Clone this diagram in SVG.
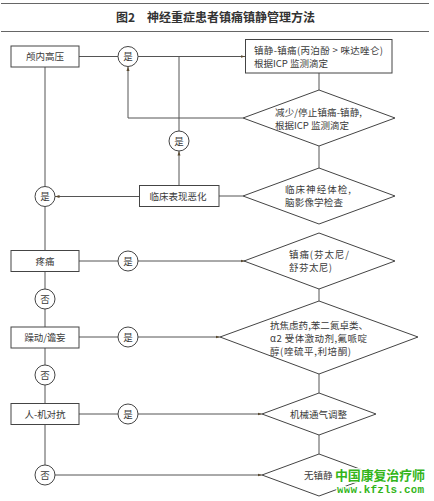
<svg xmlns="http://www.w3.org/2000/svg" width="434" height="501" viewBox="0 0 434 501">
<defs>
<marker id="a" markerWidth="5" markerHeight="4" refX="4.5" refY="2" orient="auto" markerUnits="userSpaceOnUse"><path d="M0,0.5 L4.5,2 L0,3.5 Z" fill="#5a4a30"/></marker>
</defs>
<style>
text{font-family:"Noto Sans CJK SC","Liberation Serif",serif;font-size:9.5px;fill:#3a3a3a}
.c{text-anchor:middle}
.b{fill:#fff;stroke:#444;stroke-width:1}
.l{fill:none;stroke:#555;stroke-width:1}
.r{stroke:#666;stroke-width:1;fill:none}
.t{font-size:12px;font-weight:700;fill:#333}
.w{fill:#33b51a;font-weight:700;paint-order:stroke;stroke:#fff;stroke-width:2.5px;stroke-linejoin:round}
</style>
<rect width="434" height="501" fill="#fff"/>
<path class="r" d="M1,3.500H429M1,31.500H429"/>
<text class="t" x="116" y="21.500">图2</text>
<text class="t" x="147" y="21.500">神经重症患者镇痛镇静管理方法</text>
<g id="connectors">
<path class="l" d="M79,56.500H118"/>
<path class="l" d="M138,56.500H245" marker-end="url(#a)"/>
<path class="l" d="M179,56.500V131"/>
<path class="l" d="M179,185V151" marker-end="url(#a)"/>
<path class="l" d="M243,118H128V66.500" marker-end="url(#a)"/>
<path class="l" d="M319,73V90"/>
<path class="l" d="M319,146V168"/>
<path class="l" d="M243,196H219"/>
<path class="l" d="M139,196.500H55" marker-end="url(#a)"/>
<path class="l" d="M45,67V186.500"/>
<path class="l" d="M45,206.500V250"/>
<path class="l" d="M79,261H118"/>
<path class="l" d="M138,261H245" marker-end="url(#a)"/>
<path class="l" d="M45,272V289"/>
<path class="l" d="M45,309V327"/>
<path class="l" d="M319,289V301"/>
<path class="l" d="M79,337H118"/>
<path class="l" d="M138,337H220" marker-end="url(#a)"/>
<path class="l" d="M45,348V365"/>
<path class="l" d="M45,385V403"/>
<path class="l" d="M319,374V393"/>
<path class="l" d="M79,414H118"/>
<path class="l" d="M138,414H262" marker-end="url(#a)"/>
<path class="l" d="M45,424V465"/>
<path class="l" d="M319,435V454"/>
<path class="l" d="M55,475H262" marker-end="url(#a)"/>
</g>
<g id="n1"><rect class="b" x="11" y="46" width="68" height="21"/><text class="c" x="45" y="60">颅内高压</text></g>
<g id="n2"><circle class="b" cx="128" cy="56.500" r="10"/><text class="c" x="128" y="60">是</text></g>
<g id="n3"><rect class="b" x="245.500" y="39.500" width="146.500" height="33.500"/><text x="254" y="53.500" textLength="129">镇静-镇痛(丙泊酚 &gt; 咪达唑仑)</text><text x="254" y="66.500" textLength="74">根据ICP 监测滴定</text></g>
<g id="n4"><polygon class="b" points="243,118 319,90 395,118 319,146"/><text x="275" y="115.500" textLength="87">减少/停止镇痛-镇静,</text><text x="275" y="128.500" textLength="74">根据ICP 监测滴定</text></g>
<g id="n5"><circle class="b" cx="179" cy="141" r="10"/><text class="c" x="179" y="144.500">是</text></g>
<g id="n6"><rect class="b" x="139.500" y="185.500" width="79.500" height="21"/><text class="c" x="178" y="200">临床表现恶化</text></g>
<g id="n7"><polygon class="b" points="243,196 319,168 395,196 319,224"/><text x="285" y="193" textLength="66">临床神经体检,</text><text x="285" y="206" textLength="58">脑影像学检查</text></g>
<g id="n8"><circle class="b" cx="45" cy="196.500" r="10"/><text class="c" x="45" y="200">是</text></g>
<g id="n9"><rect class="b" x="11" y="250.500" width="68" height="21"/><text class="c" x="45" y="264.500">疼痛</text></g>
<g id="n10"><circle class="b" cx="128" cy="261" r="10"/><text class="c" x="128" y="264.500">是</text></g>
<g id="n11"><polygon class="b" points="244,261 319,233 395,261 319,289"/><text x="289" y="258" textLength="60">镇痛(芬太尼/</text><text x="289" y="271" textLength="43">舒芬太尼)</text></g>
<g id="n12"><circle class="b" cx="45" cy="299" r="10"/><text class="c" x="45" y="302.500">否</text></g>
<g id="n13"><polygon class="b" points="220,337 319,301 418,337 319,374"/><text x="270" y="328.500" textLength="98">抗焦虑药,苯二氮卓类、</text><text x="270" y="341.500" textLength="97">α2 受体激动剂,氟哌啶</text><text x="270" y="354.500" textLength="81">醇(喹硫平,利培酮)</text></g>
<g id="n14"><rect class="b" x="11" y="327" width="68" height="21"/><text class="c" x="45" y="341" textLength="41">躁动/谵妄</text></g>
<g id="n15"><circle class="b" cx="128" cy="337" r="10"/><text class="c" x="128" y="340.500">是</text></g>
<g id="n16"><circle class="b" cx="45" cy="375" r="10"/><text class="c" x="45" y="378.500">否</text></g>
<g id="n17"><rect class="b" x="11" y="403.500" width="68" height="21"/><text class="c" x="45" y="417.500" textLength="41">人-机对抗</text></g>
<g id="n18"><circle class="b" cx="128" cy="414" r="10"/><text class="c" x="128" y="417.500">是</text></g>
<g id="n19"><polygon class="b" points="262,414 319,393 376,414 319,435"/><text class="c" x="318.500" y="417.500">机械通气调整</text></g>
<g id="n20"><circle class="b" cx="45" cy="475" r="10"/><text class="c" x="45" y="478.500">否</text></g>
<g id="n21"><polygon class="b" points="262,475 319,454 376,475 319,496"/><text x="304" y="478.500">无镇静</text></g>
<text class="w" x="335" y="480" style="font-size:13px" textLength="90">中国康复治疗师</text>
<text class="w" x="337" y="493" style="font-size:11px;font-family:'Liberation Mono',monospace" textLength="87">www.kfzls.com</text>
</svg>
